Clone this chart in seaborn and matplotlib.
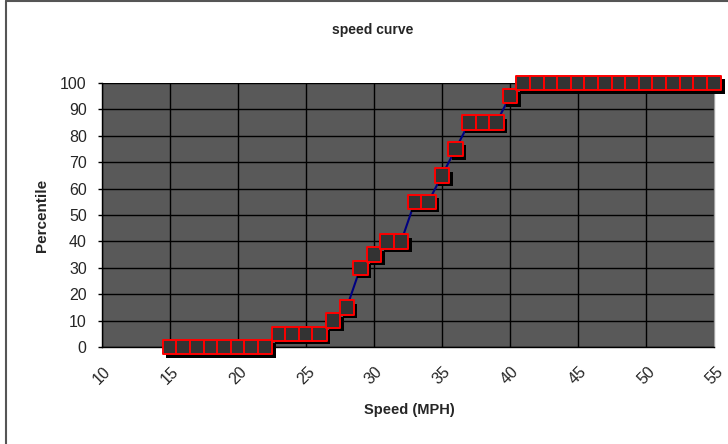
import matplotlib
matplotlib.use("Agg")
import matplotlib.pyplot as plt
import matplotlib.patheffects as pe
from matplotlib.lines import Line2D
import seaborn as sns
import pandas as pd

speed = [15, 16, 17, 18, 19, 20, 21, 22, 23, 24, 25, 26, 27, 28, 29, 30, 31,
         32, 33, 34, 35, 36, 37, 38, 39, 40, 41, 42, 43, 44, 45, 46, 47, 48,
         49, 50, 51, 52, 53, 54, 55]
percentile = [0, 0, 0, 0, 0, 0, 0, 0, 5, 5, 5, 5, 10, 15, 30, 35, 40, 40,
              55, 55, 65, 75, 85, 85, 85, 95, 100, 100, 100, 100, 100, 100,
              100, 100, 100, 100, 100, 100, 100, 100, 100]
x_ticks = [10, 15, 20, 25, 30, 35, 40, 45, 50, 55]
y_ticks = [0, 10, 20, 30, 40, 50, 60, 70, 80, 90, 100]

df = pd.DataFrame({"speed": speed, "percentile": percentile})

sns.set_style("white")
plt.rcParams["font.family"] = ["Liberation Sans", "DejaVu Sans"]

fig = plt.figure(figsize=(7.28, 4.44), dpi=100)
ax = fig.add_axes([102 / 728, 1 - 347 / 444, 612 / 728, 264 / 444])
ax.set_facecolor("#595959")

sns.lineplot(data=df, x="speed", y="percentile", ax=ax, color="#000080",
             linewidth=1.5, zorder=3, clip_on=False)
sns.scatterplot(data=df, x="speed", y="percentile", ax=ax, marker="s",
                s=108, color="#333333", edgecolor="#ff0000",
                linewidth=1.4, zorder=4, clip_on=False)
for coll in ax.collections:
    coll.set_path_effects([
        pe.SimplePatchShadow(offset=(2.5, -2.5), shadow_rgbFace="black", alpha=1.0),
        pe.Normal(),
    ])

ax.set_xlim(10, 55)
ax.set_ylim(0, 100)
ax.set_xticks(x_ticks)
ax.set_yticks(y_ticks)
ax.set_xticklabels([str(v) for v in x_ticks], rotation=45, ha="center",
                   va="top", fontsize=11.5)
ax.set_yticklabels([str(v) for v in y_ticks], fontsize=11.5)
ax.tick_params(axis="y", length=3, width=1, color="black", pad=8, left=True)
ax.tick_params(axis="x", length=0, pad=12)

ax.grid(True, color="black", linewidth=1)
ax.set_axisbelow(True)
ax.spines["top"].set_visible(False)
ax.spines["left"].set_color("black")
ax.spines["bottom"].set_color("black")
ax.spines["right"].set_color("#a0a0a0")
for s in ax.spines.values():
    s.set_linewidth(1)

ax.set_xlabel("")
ax.set_ylabel("")
fig.text(409 / 728, 1 - 410 / 444, "Speed (MPH)", ha="center", va="center",
         fontsize=10.5, fontweight="bold")
fig.text(42 / 728, 1 - 215 / 444, "Percentile", ha="center", va="center",
         rotation=90, fontsize=11, fontweight="bold")
fig.text(373 / 728, 1 - 30 / 444, "speed curve", ha="center", va="center",
         fontsize=10, fontweight="bold")

fig.add_artist(Line2D([5.5 / 728, 5.5 / 728], [0, 1 - 1.5 / 444],
                      transform=fig.transFigure, color="#555555", linewidth=1.5))
fig.add_artist(Line2D([5.5 / 728, 1], [1 - 1.5 / 444, 1 - 1.5 / 444],
                      transform=fig.transFigure, color="#555555", linewidth=1.5))

fig.savefig("out.png", dpi=100)
